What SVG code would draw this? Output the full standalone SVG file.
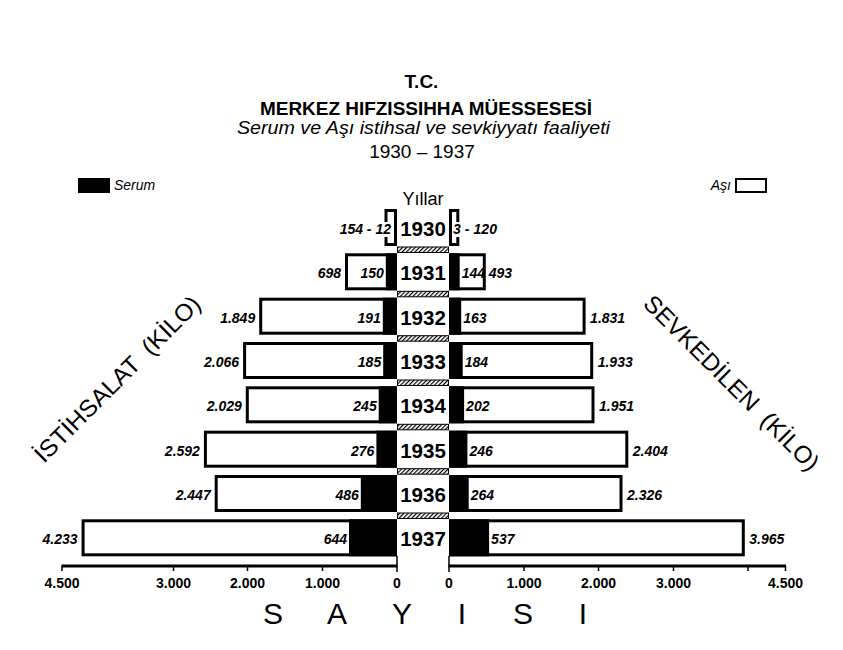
<svg xmlns="http://www.w3.org/2000/svg" width="843" height="650" viewBox="0 0 843 650">
<defs>
<pattern id="hatch" patternUnits="userSpaceOnUse" width="3" height="3" patternTransform="rotate(45)">
<rect x="0" y="0" width="1.2" height="3" fill="#000"/>
</pattern>
<style>
text{font-family:"Liberation Sans",Arial,sans-serif;fill:#000}
.bar{fill:#fff;stroke:#000;stroke-width:3}
.ser{fill:#000}
.val{font-size:14px;font-weight:bold;font-style:italic}
.yr{font-size:20.5px;font-weight:bold;text-anchor:middle}
.end{text-anchor:end}
.hatch{fill:url(#hatch);stroke:#000;stroke-width:1}
.tick{stroke:#000;stroke-width:1.5}
.axl{stroke:#000;stroke-width:3}
.ax{font-size:14px;font-weight:bold;text-anchor:middle}
.bg{fill:#fff}
.diag{font-size:24px;white-space:pre}
</style>
</defs>
<rect width="843" height="650" fill="#fff"/>

<g id="title">
<text x="421.5" y="88" font-size="19" font-weight="bold" text-anchor="middle">T.C.</text>
<text x="260" y="115" font-size="19" font-weight="bold" textLength="332" lengthAdjust="spacingAndGlyphs">MERKEZ HIFZISSIHHA MÜESSESESİ</text>
<text x="237" y="134" font-size="19" font-style="italic" textLength="373" lengthAdjust="spacingAndGlyphs">Serum ve Aşı istihsal ve sevkiyyatı faaliyeti</text>
<text x="422" y="158" font-size="19" text-anchor="middle">1930 – 1937</text>
</g>

<g id="legend">
<rect x="78" y="178" width="32" height="15" fill="#000"/>
<text x="114" y="190" font-size="14" font-style="italic">Serum</text>
<text x="731" y="190" font-size="14" font-style="italic" text-anchor="end">Aşı</text>
<rect x="736" y="179" width="30" height="13" fill="#fff" stroke="#000" stroke-width="2"/>
</g>

<text id="yillar" x="423" y="205" font-size="18" text-anchor="middle">Yıllar</text>

<text id="istihsalat" class="diag" xml:space="preserve" transform="translate(44,464) rotate(-45)" textLength="224" lengthAdjust="spacingAndGlyphs">İSTİHSALAT  (KİLO)</text>
<text id="sevkedilen" class="diag" xml:space="preserve" transform="translate(642,305) rotate(45)" textLength="237" lengthAdjust="spacingAndGlyphs">SEVKEDİLEN  (KİLO)</text>

<g id="dividers">
<rect class="hatch" x="397.5" y="247" width="51" height="5.5"/>
<rect class="hatch" x="397.5" y="291.3" width="51" height="5.5"/>
<rect class="hatch" x="397.5" y="335.7" width="51" height="5.5"/>
<rect class="hatch" x="397.5" y="380" width="51" height="5.5"/>
<rect class="hatch" x="397.5" y="424.3" width="51" height="5.5"/>
<rect class="hatch" x="397.5" y="468.7" width="51" height="5.5"/>
<rect class="hatch" x="397.5" y="513" width="51" height="5.5"/>
</g>

<g id="row-1930">
<rect class="bar" x="386" y="210.5" width="9.5" height="34"/>
<rect class="bar" x="450.5" y="210.5" width="7.3" height="34"/>
<rect class="bg" x="338" y="222" width="53" height="15"/>
<rect class="bg" x="452" y="222" width="46" height="15"/>
<text class="val end" x="391" y="234">154 - 12</text>
<text class="val" x="453" y="234" textLength="44">3 - 120</text>
<text class="yr" x="423" y="236">1930</text>
</g>

<g id="row-1931">
<rect class="bar" x="346.5" y="254.8" width="49" height="34"/>
<rect class="ser" x="385.8" y="253.3" width="11.2" height="37"/>
<rect class="bar" x="450.5" y="254.8" width="33.8" height="34"/>
<rect class="ser" x="449" y="253.3" width="10.7" height="37"/>
<text class="val end" x="341" y="278.3">698</text>
<text class="val end" x="383.8" y="278.3">150</text>
<text class="val" x="461.7" y="278.3">144</text>
<text class="val" x="488.8" y="278.3">493</text>
<text class="yr" x="423" y="280.3">1931</text>
</g>

<g id="row-1932">
<rect class="bar" x="260.7" y="299.2" width="134.8" height="34"/>
<rect class="ser" x="382.8" y="297.7" width="14.2" height="37"/>
<rect class="bar" x="450.5" y="299.2" width="133.6" height="34"/>
<rect class="ser" x="449" y="297.7" width="12.2" height="37"/>
<text class="val end" x="255.2" y="322.7">1.849</text>
<text class="val end" x="380.8" y="322.7">191</text>
<text class="val" x="463.2" y="322.7">163</text>
<text class="val" x="590.1" y="322.7">1.831</text>
<text class="yr" x="423" y="324.7">1932</text>
</g>

<g id="row-1933">
<rect class="bar" x="244.6" y="343.5" width="150.9" height="34"/>
<rect class="ser" x="383.2" y="342" width="13.8" height="37"/>
<rect class="bar" x="450.5" y="343.5" width="141.2" height="34"/>
<rect class="ser" x="449" y="342" width="13.7" height="37"/>
<text class="val end" x="239.1" y="367">2.066</text>
<text class="val end" x="381.2" y="367">185</text>
<text class="val" x="464.7" y="367">184</text>
<text class="val" x="597.7" y="367">1.933</text>
<text class="yr" x="423" y="369">1933</text>
</g>

<g id="row-1934">
<rect class="bar" x="247.3" y="387.8" width="148.2" height="34"/>
<rect class="ser" x="378.7" y="386.3" width="18.3" height="37"/>
<rect class="bar" x="450.5" y="387.8" width="142.5" height="34"/>
<rect class="ser" x="449" y="386.3" width="15.1" height="37"/>
<text class="val end" x="241.8" y="411.3">2.029</text>
<text class="val end" x="376.7" y="411.3">245</text>
<text class="val" x="466.1" y="411.3">202</text>
<text class="val" x="599" y="411.3">1.951</text>
<text class="yr" x="423" y="413.3">1934</text>
</g>

<g id="row-1935">
<rect class="bar" x="205.4" y="432.2" width="190.1" height="34"/>
<rect class="ser" x="376.4" y="430.7" width="20.6" height="37"/>
<rect class="bar" x="450.5" y="432.2" width="176.3" height="34"/>
<rect class="ser" x="449" y="430.7" width="18.4" height="37"/>
<text class="val end" x="199.9" y="455.7">2.592</text>
<text class="val end" x="374.4" y="455.7">276</text>
<text class="val" x="469.4" y="455.7">246</text>
<text class="val" x="632.8" y="455.7">2.404</text>
<text class="yr" x="423" y="457.7">1935</text>
</g>

<g id="row-1936">
<rect class="bar" x="216.2" y="476.5" width="179.3" height="34"/>
<rect class="ser" x="360.8" y="475" width="36.2" height="37"/>
<rect class="bar" x="450.5" y="476.5" width="170.5" height="34"/>
<rect class="ser" x="449" y="475" width="19.7" height="37"/>
<text class="val end" x="210.7" y="500">2.447</text>
<text class="val end" x="358.8" y="500">486</text>
<text class="val" x="470.7" y="500">264</text>
<text class="val" x="627" y="500">2.326</text>
<text class="yr" x="423" y="502">1936</text>
</g>

<g id="row-1937">
<rect class="bar" x="83.1" y="520.8" width="312.4" height="34"/>
<rect class="ser" x="349" y="519.3" width="48" height="37"/>
<rect class="bar" x="450.5" y="520.8" width="292.8" height="34"/>
<rect class="ser" x="449" y="519.3" width="40.1" height="37"/>
<text class="val end" x="77.6" y="544.3">4.233</text>
<text class="val end" x="347" y="544.3">644</text>
<text class="val" x="491.1" y="544.3">537</text>
<text class="val" x="749.3" y="544.3">3.965</text>
<text class="yr" x="423" y="546.3">1937</text>
</g>

<g id="axes">
<line class="axl" x1="61.5" y1="566" x2="397.5" y2="566"/>
<line class="axl" x1="448.5" y1="566" x2="786" y2="566"/>
<line class="tick" x1="397" y1="556" x2="397" y2="572"/>
<line class="tick" x1="449" y1="556" x2="449" y2="572"/>
<line class="tick" x1="62" y1="566" x2="62" y2="571"/>
<line class="tick" x1="173.5" y1="566" x2="173.5" y2="571"/>
<line class="tick" x1="247.5" y1="566" x2="247.5" y2="571"/>
<line class="tick" x1="322.5" y1="566" x2="322.5" y2="571"/>
<line class="tick" x1="524" y1="566" x2="524" y2="571"/>
<line class="tick" x1="598.5" y1="566" x2="598.5" y2="571"/>
<line class="tick" x1="673.5" y1="566" x2="673.5" y2="571"/>
<line class="tick" x1="748" y1="566" x2="748" y2="571"/>
<line class="tick" x1="785.5" y1="566" x2="785.5" y2="571"/>
<text class="ax" x="62" y="588">4.500</text>
<text class="ax" x="173.5" y="588">3.000</text>
<text class="ax" x="247.5" y="588">2.000</text>
<text class="ax" x="322.5" y="588">1.000</text>
<text class="ax" x="397" y="588">0</text>
<text class="ax" x="449" y="588">0</text>
<text class="ax" x="524" y="588">1.000</text>
<text class="ax" x="598.5" y="588">2.000</text>
<text class="ax" x="673.5" y="588">3.000</text>
<text class="ax" x="785.5" y="588">4.500</text>
<text x="273 337 402 462 523 583" y="624" font-size="30" text-anchor="middle">SAYISI</text>
</g>
</svg>
